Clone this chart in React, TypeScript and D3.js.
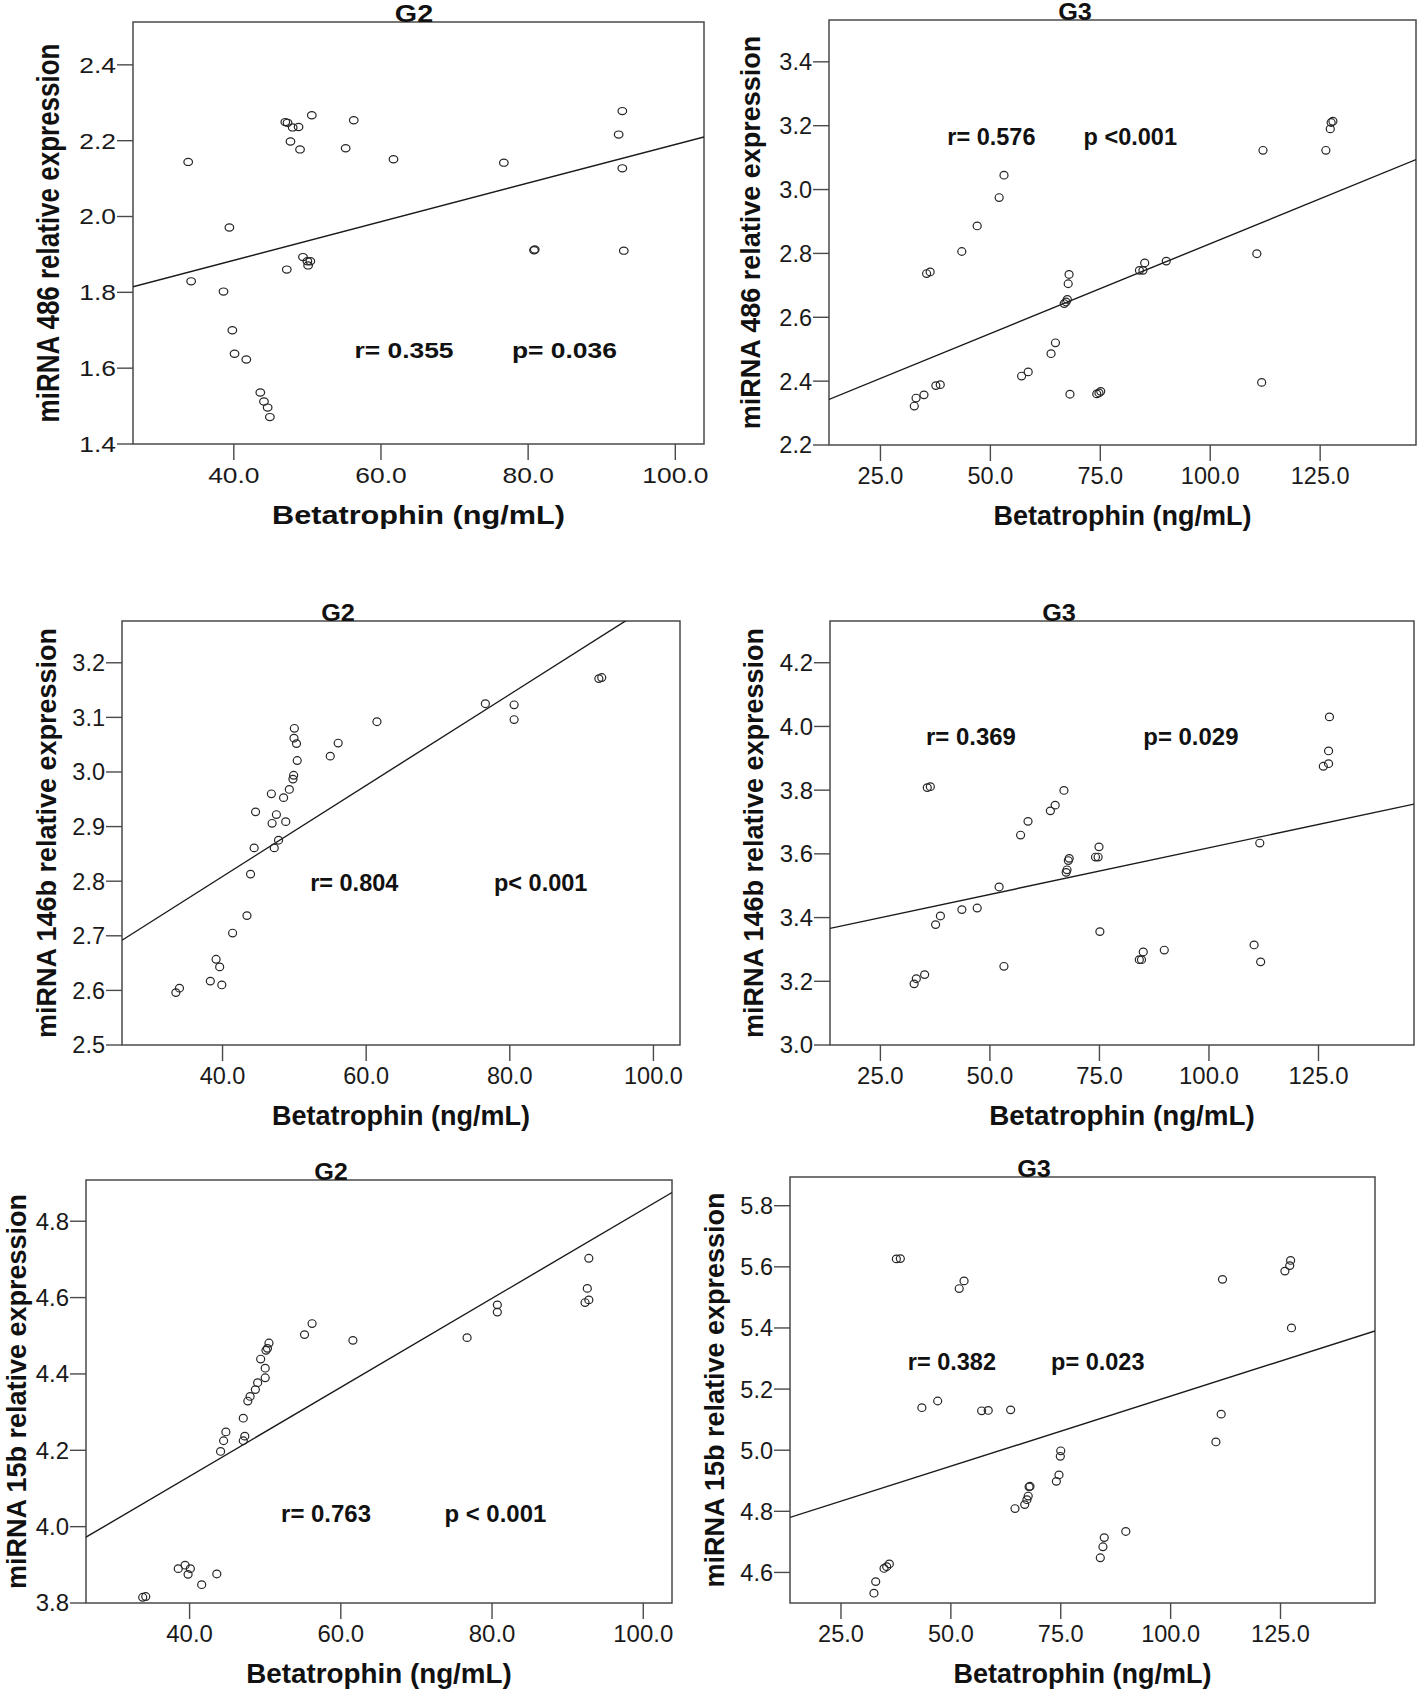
import React from "react";
import * as d3 from "d3";

// ---------- data ----------
const g2TicksX = [40, 60, 80, 100];
const g3TicksX = [25, 50, 75, 100, 125];

const p1Ticks = [1.4, 1.6, 1.8, 2.0, 2.2, 2.4];
const p2Ticks = [2.2, 2.4, 2.6, 2.8, 3.0, 3.2, 3.4];
const p3Ticks = [2.5, 2.6, 2.7, 2.8, 2.9, 3.0, 3.1, 3.2];
const p4Ticks = [3.0, 3.2, 3.4, 3.6, 3.8, 4.0, 4.2];
const p5Ticks = [3.8, 4.0, 4.2, 4.4, 4.6, 4.8];
const p6Ticks = [4.6, 4.8, 5.0, 5.2, 5.4, 5.6, 5.8];

const p1X = [33.8, 34.2, 39.4, 38.6, 39.8, 40.1, 41.7, 43.6, 44.1, 44.6, 44.9, 47.0, 47.3, 48.0, 48.8, 47.7, 49.0, 50.6, 56.3, 55.2, 61.7, 47.2, 49.4, 50.0, 50.4, 50.1, 76.7, 80.8, 80.9, 92.3, 92.8, 92.8, 93.0];
const p1Y = [2.144, 1.829, 1.971, 1.802, 1.700, 1.638, 1.623, 1.536, 1.512, 1.496, 1.471, 2.249, 2.247, 2.235, 2.236, 2.198, 2.177, 2.267, 2.254, 2.180, 2.151, 1.860, 1.893, 1.882, 1.882, 1.871, 2.142, 1.911, 1.913, 2.216, 2.278, 2.127, 1.910];

const p2X = [32.7, 33.1, 34.9, 35.5, 36.3, 37.6, 38.6, 43.5, 47.0, 52.0, 53.1, 57.1, 58.6, 63.8, 64.8, 66.8, 67.2, 67.5, 67.7, 67.9, 68.1, 74.2, 74.7, 75.1, 83.9, 84.7, 85.1, 90.0, 110.6, 111.7, 112.0, 126.3, 127.3, 127.5, 127.9];
const p2Y = [2.322, 2.347, 2.357, 2.737, 2.742, 2.386, 2.389, 2.806, 2.886, 2.975, 3.045, 2.416, 2.429, 2.486, 2.520, 2.643, 2.648, 2.656, 2.705, 2.734, 2.359, 2.360, 2.363, 2.368, 2.747, 2.747, 2.770, 2.776, 2.799, 2.396, 3.123, 3.123, 3.190, 3.210, 3.214];

const p3X = [33.5, 34.0, 38.3, 39.1, 39.6, 39.9, 41.4, 43.4, 43.9, 44.4, 44.6, 46.8, 46.9, 47.2, 47.5, 47.8, 48.5, 48.8, 49.3, 49.8, 49.9, 49.95, 50.0, 50.3, 50.4, 55.0, 56.1, 61.5, 76.6, 80.6, 80.6, 92.4, 92.8];
const p3Y = [2.596, 2.604, 2.617, 2.657, 2.643, 2.610, 2.705, 2.737, 2.813, 2.861, 2.927, 2.960, 2.906, 2.861, 2.922, 2.875, 2.953, 2.909, 2.968, 2.987, 2.994, 3.062, 3.080, 3.052, 3.021, 3.029, 3.053, 3.092, 3.125, 3.123, 3.096, 3.171, 3.173];

const p4X = [32.7, 33.2, 35.1, 35.7, 36.4, 37.6, 38.7, 43.6, 47.1, 52.1, 53.2, 57.0, 58.7, 63.8, 64.9, 66.9, 67.4, 67.6, 67.9, 68.1, 74.1, 74.7, 74.9, 75.1, 84.1, 84.6, 85.0, 89.8, 110.3, 111.6, 111.8, 126.1, 127.3, 127.3, 127.5];
const p4Y = [3.192, 3.208, 3.221, 3.808, 3.811, 3.378, 3.405, 3.425, 3.430, 3.496, 3.247, 3.659, 3.702, 3.735, 3.753, 3.799, 3.542, 3.550, 3.579, 3.586, 3.590, 3.590, 3.622, 3.356, 3.268, 3.268, 3.292, 3.298, 3.314, 3.634, 3.261, 3.875, 3.883, 3.923, 4.030];

const p5X = [33.8, 34.2, 38.5, 39.4, 39.8, 40.1, 41.6, 43.6, 44.1, 44.5, 44.8, 47.1, 47.1, 47.3, 47.7, 48.0, 48.7, 49.0, 49.4, 50.0, 50.0, 50.1, 50.3, 50.5, 55.2, 56.2, 61.6, 76.7, 80.7, 80.7, 92.3, 92.8, 92.6, 92.8];
const p5Y = [3.815, 3.817, 3.890, 3.899, 3.875, 3.890, 3.848, 3.876, 4.197, 4.225, 4.248, 4.284, 4.225, 4.237, 4.329, 4.341, 4.359, 4.377, 4.439, 4.390, 4.415, 4.462, 4.467, 4.481, 4.503, 4.532, 4.488, 4.495, 4.581, 4.562, 4.587, 4.594, 4.624, 4.703];

const p6X = [32.5, 32.9, 34.8, 35.4, 36.0, 37.6, 38.5, 43.4, 47.0, 51.9, 53.0, 57.0, 58.5, 63.6, 64.6, 66.8, 67.3, 67.6, 67.8, 68.0, 74.0, 74.6, 74.9, 75.0, 84.0, 84.6, 84.9, 89.8, 110.3, 111.5, 111.8, 126.0, 127.1, 127.3, 127.5];
const p6Y = [4.532, 4.570, 4.613, 4.619, 4.628, 5.626, 5.627, 5.139, 5.161, 5.529, 5.554, 5.129, 5.130, 5.132, 4.809, 4.822, 4.838, 4.850, 4.880, 4.882, 4.898, 4.919, 4.980, 4.998, 4.648, 4.684, 4.714, 4.734, 5.027, 5.118, 5.559, 5.586, 5.604, 5.621, 5.400];

// fitted lines: [intercept, slope]
const fits = [
  [1.681, 0.00509],
  [2.268, 0.005625],
  [2.475, 0.00834],
  [3.3265, 0.002926],
  [3.666, 0.01165],
  [4.7186, 0.004583],
];

const titles = ["G2", "G3", "G2", "G3", "G2", "G3"];
const yTitles = [
  "miRNA 486 relative expression",
  "miRNA 486 relative expression",
  "miRNA 146b relative expression",
  "miRNA 146b relative expression",
  "miRNA 15b relative expression",
  "miRNA 15b relative expression",
];
const xTitle = "Betatrophin (ng/mL)";
const rLabels = ["r= 0.355", "r= 0.576", "r= 0.804", "r= 0.369", "r= 0.763", "r= 0.382"];
const pLabels = ["p= 0.036", "p <0.001", "p< 0.001", "p= 0.029", "p < 0.001", "p= 0.023"];
// label anchor positions in data units: [rx, px, y]
const labelPos = [
  [56.4, 77.8, 1.626],
  [40.2, 71.2, 3.141],
  [52.2, 77.8, 2.782],
  [35.4, 85.0, 3.941],
  [52.1, 73.7, 4.012],
  [40.2, 72.8, 5.264],
];

const xDomains = [
  [26.3, 103.9],
  [13.3, 146.8],
  [26.0, 103.7],
  [13.5, 146.8],
  [26.3, 103.8],
  [13.4, 146.5],
];
const yDomains = [
  [1.4, 2.513],
  [2.2, 3.531],
  [2.5, 3.2765],
  [3.0, 4.331],
  [3.8, 4.908],
  [4.5, 5.894],
];

// ---------- layout ----------
// yb: baseline x of the rotated y title
const boxes = [
  { L: 133, R: 704, T: 22, B: 444, tx: 414, yb: 59 },
  { L: 829, R: 1416, T: 20, B: 445, tx: 1075, yb: 760 },
  { L: 122, R: 680, T: 621, B: 1045, tx: 338, yb: 56 },
  { L: 830, R: 1414, T: 621, B: 1045, tx: 1059, yb: 763 },
  { L: 86, R: 672, T: 1180, B: 1603, tx: 331, yb: 26 },
  { L: 790, R: 1375, T: 1177, B: 1603, tx: 1034, yb: 724 },
];
// per panel text styles: [fontSize, horizontal stretch]
const styles = [
  { tick: [22, 1.2], axis: [26, 1.18], ann: [22, 1.2], head: [23, 1.25], rx: 4.3, ry: 3.6 },
  { tick: [23.5, 1.0], axis: [27, 1.0], ann: [23.5, 1.0], head: [23, 1.1], rx: 4.0, ry: 3.8 },
  { tick: [23.5, 1.0], axis: [27, 1.0], ann: [23.5, 1.0], head: [23, 1.1], rx: 4.0, ry: 3.8 },
  { tick: [23.5, 1.02], axis: [27, 1.03], ann: [23.5, 1.02], head: [23, 1.1], rx: 4.0, ry: 3.8 },
  { tick: [23.5, 1.02], axis: [27, 1.03], ann: [23.5, 1.02], head: [23, 1.1], rx: 4.0, ry: 3.8 },
  { tick: [23.5, 1.0], axis: [27, 1.0], ann: [23.5, 1.0], head: [23, 1.1], rx: 4.0, ry: 3.8 },
];

const FONT = "'Liberation Sans', Arial, Helvetica, sans-serif";

const panelXs = [p1X, p2X, p3X, p4X, p5X, p6X];
const panelYs = [p1Y, p2Y, p3Y, p4Y, p5Y, p6Y];
const panelYTicks = [p1Ticks, p2Ticks, p3Ticks, p4Ticks, p5Ticks, p6Ticks];
const panelXTicks = [g2TicksX, g3TicksX, g2TicksX, g3TicksX, g2TicksX, g3TicksX];

function Panel({ i }: { i: number }) {
  const b = boxes[i];
  const st = styles[i];
  const x = d3.scaleLinear().domain(xDomains[i]).range([b.L, b.R]);
  const y = d3.scaleLinear().domain(yDomains[i]).range([b.B, b.T]);
  const [a, s] = fits[i];
  const line = d3
    .line<number>()
    .x((v) => x(v))
    .y((v) => y(a + s * v));
  const clipId = `clip${i}`;
  const xs = panelXs[i];
  const ys = panelYs[i];
  const lp = labelPos[i];
  const fmt = d3.format(".1f");
  const axisColor = "#4a4a4a";
  const [tf, ts] = st.tick;
  const [af, as] = st.axis;
  const [nf, ns] = st.ann;
  const [hf, hs] = st.head;
  return (
    <g>
      <defs>
        <clipPath id={clipId}>
          <rect x={b.L} y={b.T} width={b.R - b.L} height={b.B - b.T} />
        </clipPath>
      </defs>
      <rect x={b.L} y={b.T} width={b.R - b.L} height={b.B - b.T} fill="none" stroke={axisColor} strokeWidth={1.5} />
      {/* y ticks */}
      {panelYTicks[i].map((t) => (
        <g key={"yt" + t}>
          <line x1={b.L - 16} x2={b.L} y1={y(t)} y2={y(t)} stroke={axisColor} strokeWidth={1.4} />
          <text
            transform={`translate(${b.L - 17},${y(t) + tf * 0.36}) scale(${ts},1)`}
            textAnchor="end"
            fontFamily={FONT}
            fontSize={tf}
            fill="#1a1a1a"
          >
            {fmt(t)}
          </text>
        </g>
      ))}
      {/* x ticks */}
      {panelXTicks[i].map((t) => (
        <g key={"xt" + t}>
          <line x1={x(t)} x2={x(t)} y1={b.B} y2={b.B + 16} stroke={axisColor} strokeWidth={1.4} />
          <text
            transform={`translate(${x(t)},${b.B + 39}) scale(${ts},1)`}
            textAnchor="middle"
            fontFamily={FONT}
            fontSize={tf}
            fill="#1a1a1a"
          >
            {fmt(t)}
          </text>
        </g>
      ))}
      {/* fit line */}
      <path d={line(xDomains[i]) || ""} stroke="#1a1a1a" strokeWidth={1.4} fill="none" clipPath={`url(#${clipId})`} />
      {/* points */}
      {xs.map((v, k) => (
        <ellipse key={k} cx={x(v)} cy={y(ys[k])} rx={st.rx} ry={st.ry} fill="none" stroke="#262626" strokeWidth={1.2} />
      ))}
      {/* annotations */}
      <text transform={`translate(${x(lp[0])},${y(lp[2])}) scale(${ns},1)`} fontFamily={FONT} fontWeight="bold" fontSize={nf} fill="#111">
        {rLabels[i]}
      </text>
      <text transform={`translate(${x(lp[1])},${y(lp[2])}) scale(${ns},1)`} fontFamily={FONT} fontWeight="bold" fontSize={nf} fill="#111">
        {pLabels[i]}
      </text>
      {/* title */}
      <text transform={`translate(${b.tx},${b.T}) scale(${hs},1)`} textAnchor="middle" fontFamily={FONT} fontWeight="bold" fontSize={hf} fill="#111">
        {titles[i]}
      </text>
      {/* x title */}
      <text
        transform={`translate(${(b.L + b.R) / 2},${b.B + 80}) scale(${as},1)`}
        textAnchor="middle"
        fontFamily={FONT}
        fontWeight="bold"
        fontSize={af}
        fill="#111"
      >
        {xTitle}
      </text>
      {/* y title */}
      <text
        transform={`translate(${b.yb},${(b.T + b.B) / 2}) scale(${as},1) rotate(-90)`}
        textAnchor="middle"
        fontFamily={FONT}
        fontWeight="bold"
        fontSize={af}
        fill="#111"
      >
        {yTitles[i]}
      </text>
    </g>
  );
}

export default function App() {
  return (
    <svg
      width={1418}
      height={1691}
      style={{ position: "absolute", left: 0, top: 0, background: "#fff" }}
      xmlns="http://www.w3.org/2000/svg"
    >
      <rect width={1418} height={1691} fill="#fff" />
      {[0, 1, 2, 3, 4, 5].map((i) => (
        <Panel key={i} i={i} />
      ))}
    </svg>
  );
}
